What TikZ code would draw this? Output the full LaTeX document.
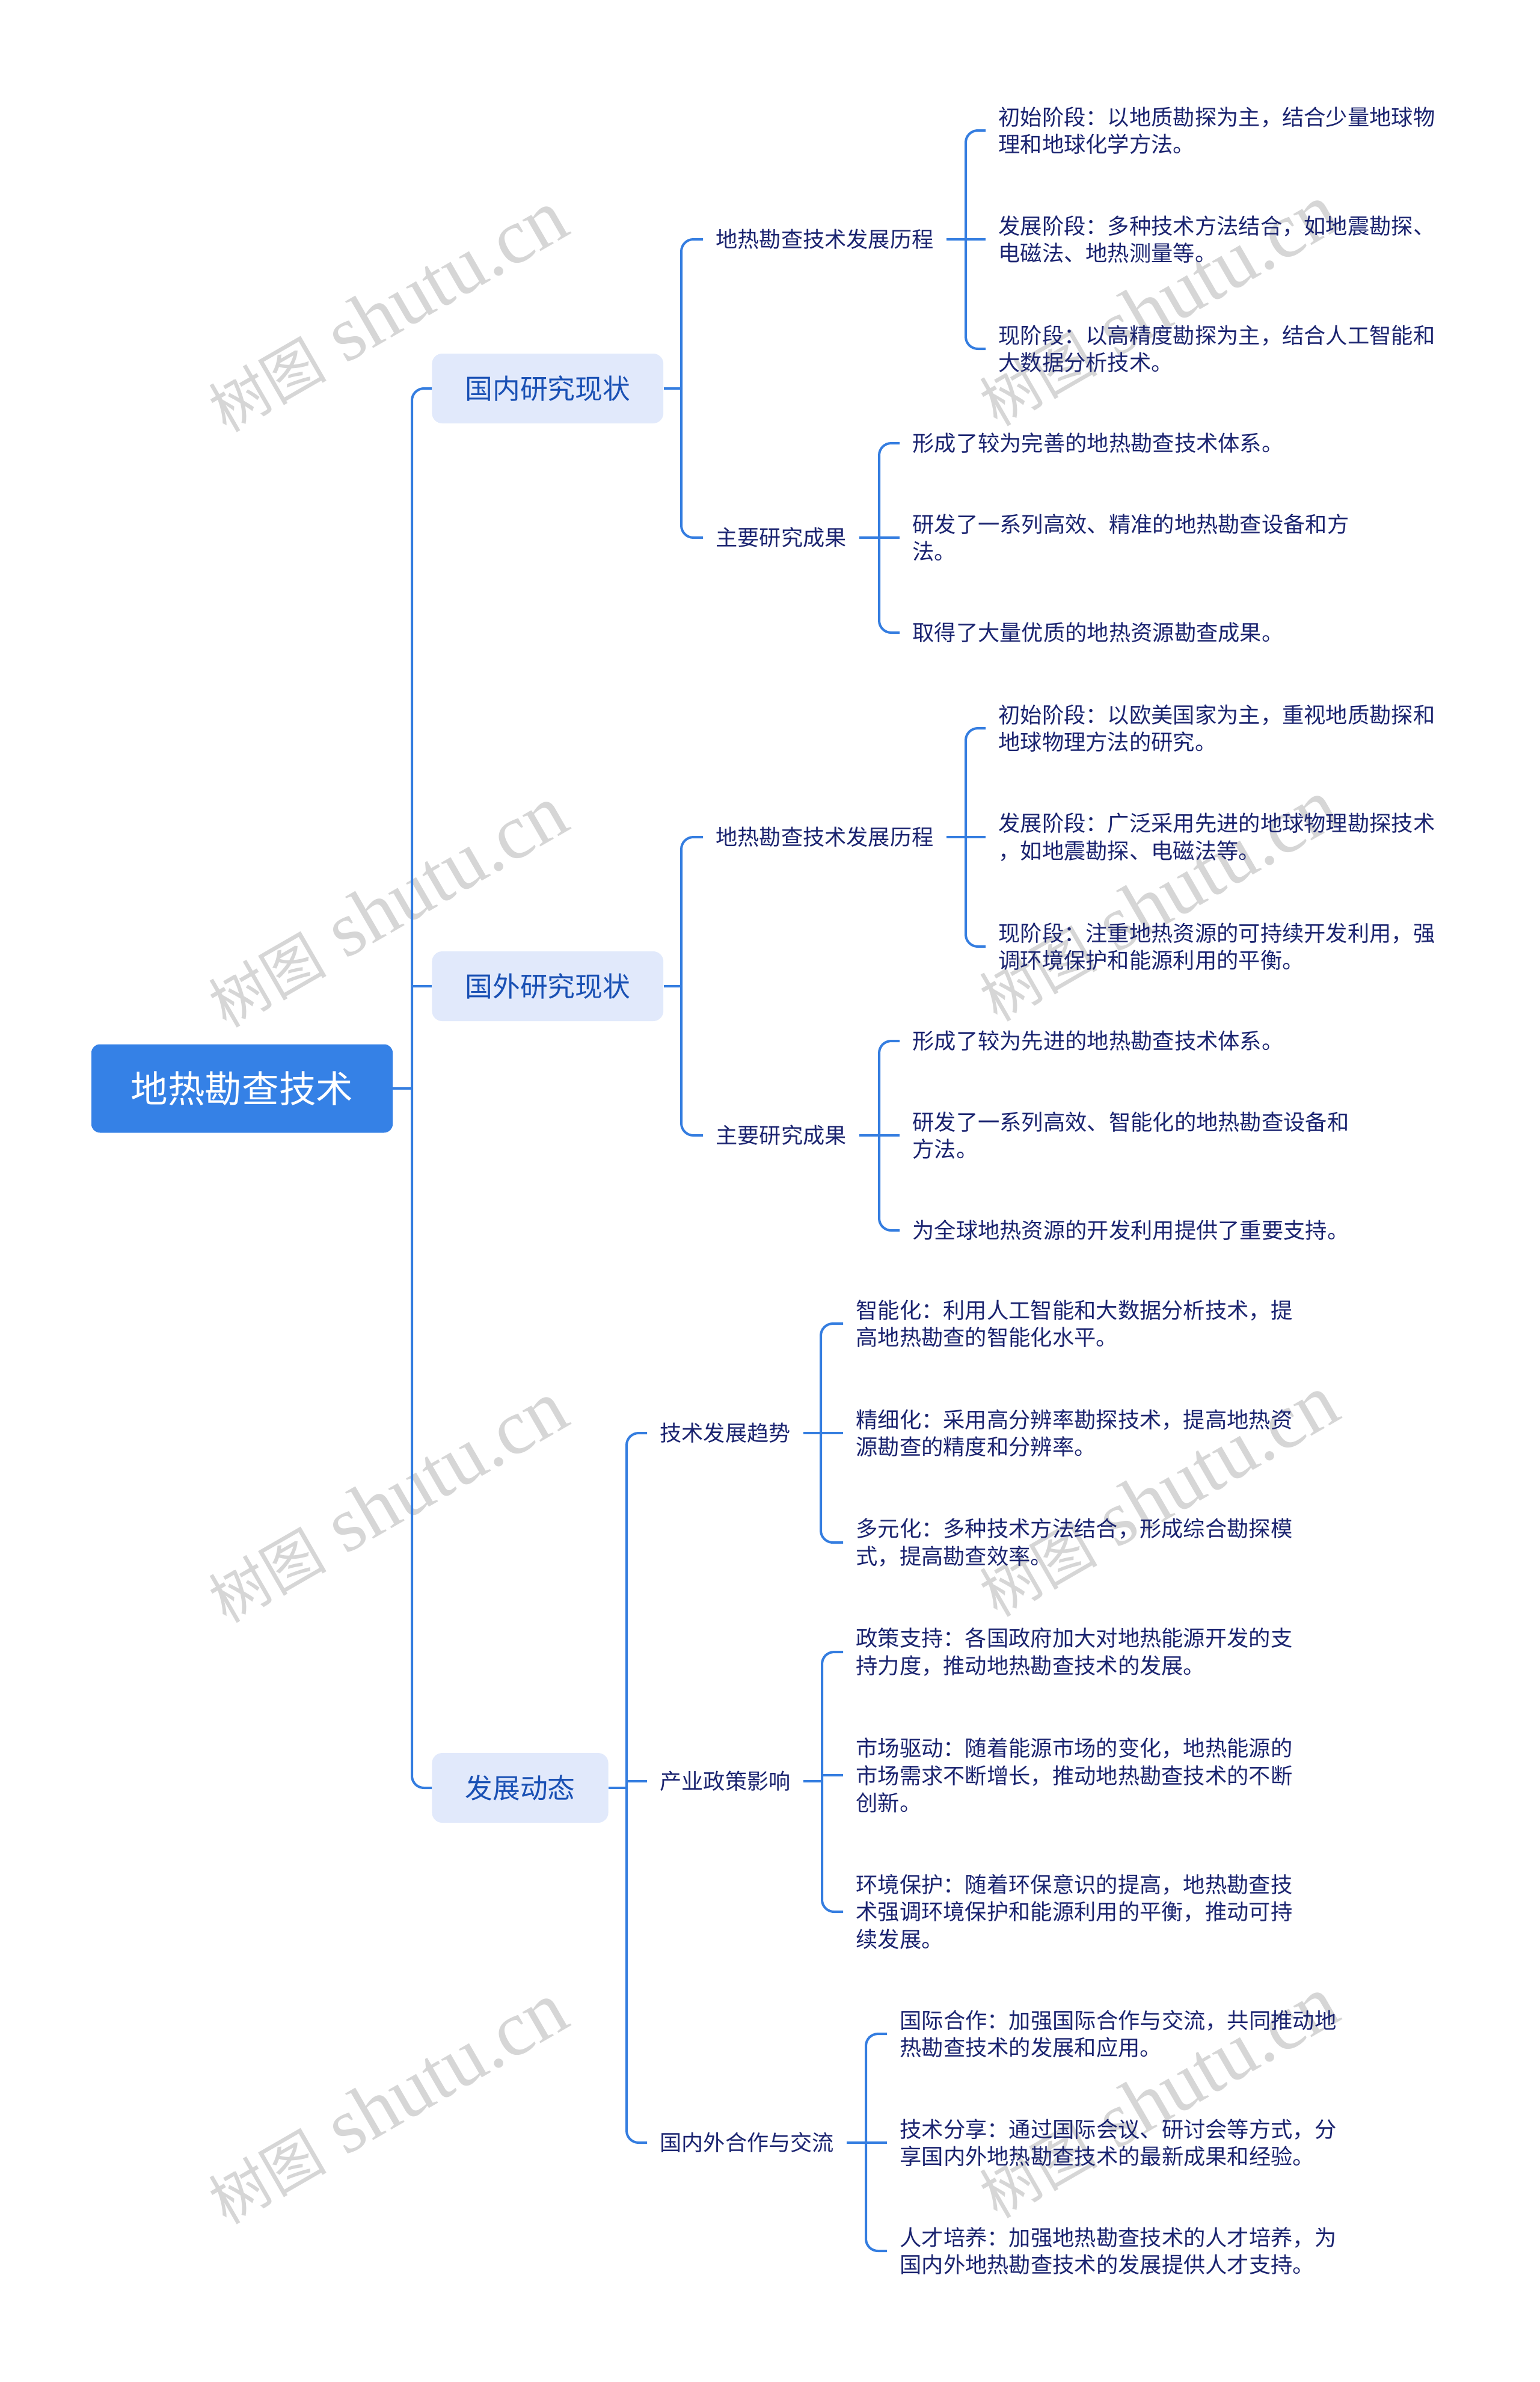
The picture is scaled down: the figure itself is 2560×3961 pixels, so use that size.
\documentclass[tikz,border=0pt]{standalone}
\usepackage{fontspec}
\newfontfamily\cjk{Noto Sans CJK SC}
\newfontfamily\wmlatin{Liberation Serif}
\usetikzlibrary{calc}
\definecolor{conncol}{HTML}{347DE0}
\definecolor{rootfill}{HTML}{3581E6}
\definecolor{lonefill}{HTML}{E1E9FB}
\definecolor{lonetext}{HTML}{1950B4}
\definecolor{leaftext}{HTML}{1B2470}
\definecolor{wmgray}{HTML}{D6D6D6}
\begin{document}
\begin{tikzpicture}[x=0.5pt,y=-0.5pt,
  conn/.style={draw=conncol, line width=2pt, rounded corners=10pt},
  rootbox/.style={fill=rootfill, text=white, rounded corners=7pt, inner sep=0pt,
    minimum width=250.5pt, minimum height=73.5pt,
    font=\cjk\fontsize{30.8pt}{36pt}\selectfont},
  lonebox/.style={fill=lonefill, text=lonetext, rounded corners=8.5pt, anchor=west,
    inner xsep=27.5pt, inner ysep=0pt, minimum height=58pt,
    font=\cjk\fontsize{22.9pt}{28pt}\selectfont},
  ltwo/.style={text=leaftext, anchor=west, inner xsep=10.5pt, inner ysep=0pt,
    font=\cjk\fontsize{18.1pt}{22.6pt}\selectfont},
  leaf/.style={text=leaftext, anchor=west, align=left, inner xsep=10.5pt, inner ysep=0pt,
    font=\cjk\fontsize{18.15pt}{22.6pt}\selectfont},
  wmark/.style={text=wmgray, rotate=30, inner sep=0pt,
    font=\wmlatin\fontsize{65pt}{72pt}\selectfont}
]
\fill[white] (0,0) rectangle (2560,3961);
\useasboundingbox (0,0) rectangle (2560,3961);

% watermarks
\foreach \wx/\wy [count=\i] in {644/518,644/1508,644/2498,644/3498,1926/508,1926/1498,1926/2488,1926/3488}{
  \node[wmark] (wm\i) at (\wx,\wy) {{\cjk\fontsize{49pt}{54pt}\selectfont 树图} shutu.cn};
}

% root and level 1
\node[rootbox] (root) at (402.5,1810) {地热勘查技术};
\node[lonebox] (A) at (718,646) {国内研究现状};
\node[lonebox] (B) at (718,1640) {国外研究现状};
\node[lonebox] (C) at (718,2973) {发展动态};

% level 2
\node[ltwo] (A1) at (1169,398) {地热勘查技术发展历程};
\node[ltwo] (A2) at (1169,894) {主要研究成果};
\node[ltwo] (B1) at (1169,1392) {地热勘查技术发展历程};
\node[ltwo] (B2) at (1169,1888) {主要研究成果};
\node[ltwo] (C1) at (1076,2383) {技术发展趋势};
\node[ltwo] (C2) at (1076,2962) {产业政策影响};
\node[ltwo] (C3) at (1076,3563) {国内外合作与交流};

% leaves A1
\node[leaf] (A1a) at (1639,217) {初始阶段：以地质勘探为主，结合少量地球物\\理和地球化学方法。};
\node[leaf] (A1b) at (1639,398) {发展阶段：多种技术方法结合，如地震勘探、\\电磁法、地热测量等。};
\node[leaf] (A1c) at (1639,580) {现阶段：以高精度勘探为主，结合人工智能和\\大数据分析技术。};
% leaves A2
\node[leaf] (A2a) at (1496,737) {形成了较为完善的地热勘查技术体系。};
\node[leaf] (A2b) at (1496,894) {研发了一系列高效、精准的地热勘查设备和方\\法。};
\node[leaf] (A2c) at (1496,1052) {取得了大量优质的地热资源勘查成果。};
% leaves B1
\node[leaf] (B1a) at (1639,1211) {初始阶段：以欧美国家为主，重视地质勘探和\\地球物理方法的研究。};
\node[leaf] (B1b) at (1639,1392) {发展阶段：广泛采用先进的地球物理勘探技术\\，如地震勘探、电磁法等。};
\node[leaf] (B1c) at (1639,1574) {现阶段：注重地热资源的可持续开发利用，强\\调环境保护和能源利用的平衡。};
% leaves B2
\node[leaf] (B2a) at (1496,1731) {形成了较为先进的地热勘查技术体系。};
\node[leaf] (B2b) at (1496,1888) {研发了一系列高效、智能化的地热勘查设备和\\方法。};
\node[leaf] (B2c) at (1496,2046) {为全球地热资源的开发利用提供了重要支持。};
% leaves C1
\node[leaf] (C1a) at (1402,2201) {智能化：利用人工智能和大数据分析技术，提\\高地热勘查的智能化水平。};
\node[leaf] (C1b) at (1402,2383) {精细化：采用高分辨率勘探技术，提高地热资\\源勘查的精度和分辨率。};
\node[leaf] (C1c) at (1402,2565) {多元化：多种技术方法结合，形成综合勘探模\\式，提高勘查效率。};
% leaves C2
\node[leaf] (C2a) at (1402,2747) {政策支持：各国政府加大对地热能源开发的支\\持力度，推动地热勘查技术的发展。};
\node[leaf] (C2b) at (1402,2952) {市场驱动：随着能源市场的变化，地热能源的\\市场需求不断增长，推动地热勘查技术的不断\\创新。};
\node[leaf] (C2c) at (1402,3179) {环境保护：随着环保意识的提高，地热勘查技\\术强调环境保护和能源利用的平衡，推动可持\\续发展。};
% leaves C3
\node[leaf] (C3a) at (1475,3382) {国际合作：加强国际合作与交流，共同推动地\\热勘查技术的发展和应用。};
\node[leaf] (C3b) at (1475,3563) {技术分享：通过国际会议、研讨会等方式，分\\享国内外地热勘查技术的最新成果和经验。};
\node[leaf] (C3c) at (1475,3743) {人才培养：加强地热勘查技术的人才培养，为\\国内外地热勘查技术的发展提供人才支持。};

% bracket points
\coordinate (kR) at (685,1810);
\coordinate (kA) at (1133,646);
\coordinate (kB) at (1133,1640);
\coordinate (kC) at (1042,2973);
\coordinate (kA1) at (1606,398);
\coordinate (kA2) at (1462,894);
\coordinate (kB1) at (1606,1392);
\coordinate (kB2) at (1462,1888);
\coordinate (kC1) at (1365,2383);
\coordinate (kC2) at (1367,2962);
\coordinate (kC3) at (1440,3563);

% root connectors
\draw[conn] (root.east) -- (kR);
\draw[conn] (kR) |- (A.west);
\draw[conn] (kR) |- (C.west);
\draw[conn] (kR |- B.west) -- (B.west);

% level 1 -> level 2
\foreach \p/\t/\b in {A/A1/A2, B/B1/B2}{
  \draw[conn] (\p.east) -- (k\p);
  \draw[conn] (k\p) |- (\t.west);
  \draw[conn] (k\p) |- (\b.west);
}
\draw[conn] (C.east) -- (kC);
\draw[conn] (kC) |- (C1.west);
\draw[conn] (kC) |- (C3.west);
\draw[conn] (kC |- C2.west) -- (C2.west);

% level 2 -> leaves
\foreach \p in {A1,A2,B1,B2,C1,C2,C3}{
  \draw[conn] (\p.east) -- (k\p);
  \draw[conn] (k\p) |- (\p a.west);
  \draw[conn] (k\p) |- (\p c.west);
  \draw[conn] (k\p |- \p b.west) -- (\p b.west);
}
\end{tikzpicture}
\end{document}
